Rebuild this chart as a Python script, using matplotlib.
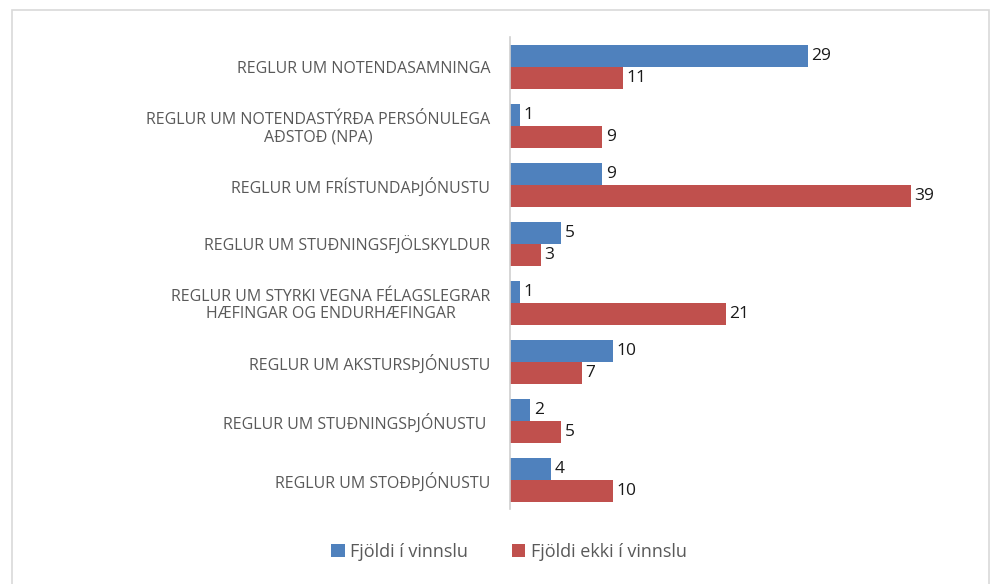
import numpy as np
import matplotlib.pyplot as plt
from matplotlib.patches import Rectangle

# gogn ------------------------------------------------------------------
flokkar = [
    'REGLUR UM NOTENDASAMNINGA',
    'REGLUR UM NOTENDASTÝRÐA PERSÓNULEGA\nAÐSTOÐ (NPA)',
    'REGLUR UM FRÍSTUNDAÞJÓNUSTU',
    'REGLUR UM STUÐNINGSFJÖLSKYLDUR',
    'REGLUR UM STYRKI VEGNA FÉLAGSLEGRAR\nHÆFINGAR OG ENDURHÆFINGAR',
    'REGLUR UM AKSTURSÞJÓNUSTU',
    'REGLUR UM STUÐNINGSÞJÓNUSTU ',
    'REGLUR UM STOÐÞJÓNUSTU',
]
i_vinnslu = [29, 1, 9, 5, 1, 10, 2, 4]
ekki_i_vinnslu = [11, 9, 39, 3, 21, 7, 5, 10]
heiti = ['Fjöldi í vinnslu', 'Fjöldi ekki í vinnslu']

blar = '#4F81BD'
raudur = '#C0504D'
grar = '#595959'

plt.rcParams['font.family'] = ['Open Sans', 'DejaVu Sans']

fig = plt.figure(figsize=(9.92, 5.84), dpi=100)
ax = fig.add_axes([0.514, 0.1276, 0.466, 0.8082])

y = np.arange(len(flokkar))
h = 0.365
b1 = ax.barh(y - h / 2, i_vinnslu, height=h, color=blar, label=heiti[0])
b2 = ax.barh(y + h / 2, ekki_i_vinnslu, height=h, color=raudur, label=heiti[1])

for bars in (b1, b2):
    for bar in bars:
        w = bar.get_width()
        ax.text(w + 0.35, bar.get_y() + bar.get_height() / 2, f'{w:g}',
                va='center', ha='left', fontsize=12.5, color='#1a1a1a')

ax.set_xlim(0, 45)
ax.set_ylim(len(flokkar) - 0.5, -0.5)
ax.set_yticks(y)
ax.set_yticklabels(flokkar, fontsize=11.5, color=grar, multialignment='center',
                   linespacing=1.1)
ax.tick_params(axis='y', length=0, pad=14)
ax.set_xticks([])
for s in ['top', 'right', 'bottom']:
    ax.spines[s].set_visible(False)
ax.spines['left'].set_color('#D0D0D0')
ax.spines['left'].set_linewidth(1.2)

fig.legend(handles=[b1, b2], labels=heiti, loc='center', bbox_to_anchor=(0.513, 0.055),
           ncol=2, frameon=False, fontsize=13, labelcolor=grar, handlelength=0.75,
           handleheight=0.75, handletextpad=0.3, columnspacing=2.4)

# rammi utan um myndina
fig.patches.append(Rectangle((12 / 992, -0.05), 977 / 992, 1.05 - 10 / 584,
                             transform=fig.transFigure, fill=False,
                             edgecolor='#D9D9D9', linewidth=1.2))

fig.savefig('out.png', dpi=100)
